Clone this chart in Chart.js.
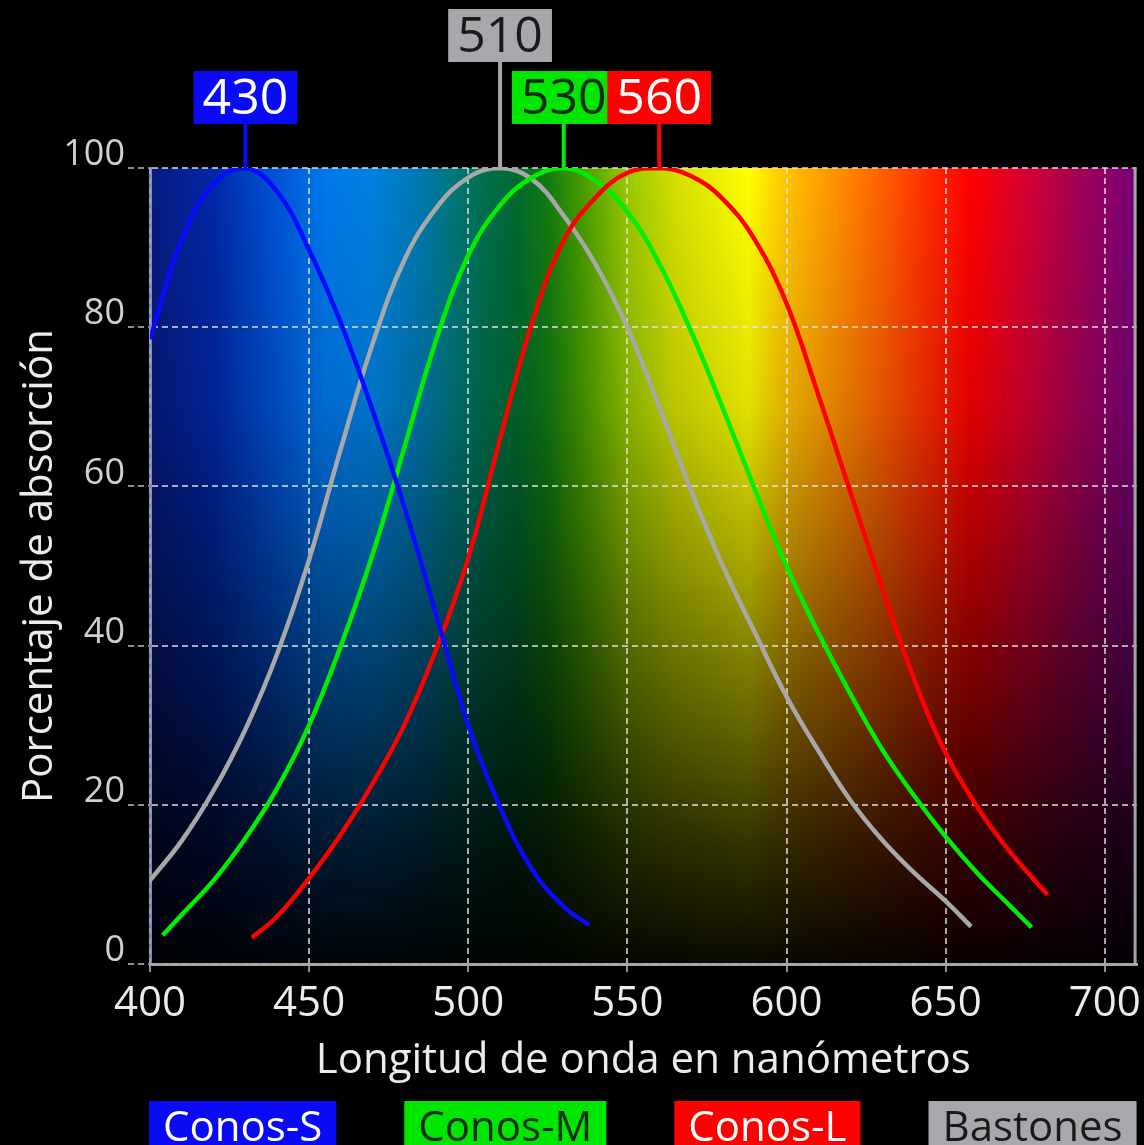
<!DOCTYPE html>
<html>
<head>
<meta charset="utf-8">
<script src="https://cdn.jsdelivr.net/npm/chart.js@4.4.1/dist/chart.umd.min.js"></script>
<style>
html,body{margin:0;padding:0;background:#000;overflow:hidden;}
#wrap{width:1144px;height:1145px;position:relative;}
</style>
</head>
<body>
<div id="wrap"><canvas id="c" width="1144" height="1145"></canvas></div>
<script>
// ---------- data ----------
const seriesNames = ['Conos-S', 'Conos-M', 'Conos-L', 'Bastones'];
const peakWavelengths = [430, 530, 560, 510];
const peakLabels = ['430', '530', '560', '510'];
const xTicks = [400, 450, 500, 550, 600, 650, 700];
const yTicks = [0, 20, 40, 60, 80, 100];
const xTitle = 'Longitud de onda en nanómetros';
const yTitle = 'Porcentaje de absorción';

const sWavelengths = [400, 410, 420, 430, 440, 450, 460, 470, 480, 490, 500, 510, 520, 530, 538];
const sValues      = [78.5, 91, 98, 100, 97, 89.7, 80.5, 69.5, 57.3, 43.8, 30, 19.7, 11.9, 7.2, 4.9];

const mWavelengths = [404, 410, 420, 430, 440, 450, 460, 470, 480, 490, 500, 510, 520, 530, 540, 550, 560, 570, 580, 590, 600, 610, 620, 630, 640, 650, 660, 670, 677];
const mValues      = [3.6, 6.2, 10.5, 15.8, 22.1, 30, 40, 51.5, 65, 78.5, 89, 95.3, 98.8, 100, 98.4, 94.5, 88, 79.5, 69.8, 59.7, 50, 41.6, 34, 27, 21.2, 16, 11.4, 7.4, 4.6];

const lWavelengths = [432, 440, 450, 460, 470, 480, 490, 500, 510, 520, 530, 540, 550, 560, 570, 580, 590, 600, 610, 620, 630, 640, 650, 660, 670, 680, 682];
const lValues      = [3.3, 6.0, 10.8, 16.3, 22.7, 30.1, 39.6, 51, 66, 80.5, 90.9, 96.3, 99.4, 100, 99, 96.1, 91, 83, 71.5, 59.4, 47.4, 35.9, 26.5, 19.7, 14.2, 9.6, 8.7];

const rWavelengths = [400, 410, 420, 430, 440, 450, 460, 470, 480, 490, 500, 510, 520, 530, 540, 550, 560, 570, 580, 590, 600, 610, 620, 630, 640, 650, 658];
const rValues      = [10.5, 15.5, 21.8, 29.5, 39, 50.8, 64.8, 78, 88.5, 95, 98.8, 100, 98.6, 94, 87.9, 80, 70, 59.5, 50, 41.7, 33.6, 26.8, 20.6, 15.6, 11.5, 7.9, 4.7];

// ---------- styles ----------
const FONT = '"Open Sans", "Noto Sans", sans-serif';
const lineColors  = ['#0a0aff', '#00ee00', '#ff0000', '#a8a8a8'];
const boxColors   = ['#0a0af5', '#00e600', '#ff0000', '#a8a8ac'];
const textColors  = ['#ffffff', '#0a2a0a', '#ffffff', '#1a1a1a'];
const peakRows    = [0, 0, 0, 1];
const drawOrder   = [1, 3, 2, 4];

const pts = (xs, ys) => xs.map((x, i) => ({x: x, y: ys[i]}));
const seriesData = [pts(sWavelengths, sValues), pts(mWavelengths, mValues), pts(lWavelengths, lValues), pts(rWavelengths, rValues)];

// spectrum colour stops (wavelength -> colour), background styling only
const spectrum = [
  [400, '#081a80'], [420, '#0028a8'], [440, '#0054d6'], [455, '#0078ec'], [470, '#0082e0'],
  [485, '#0078b0'], [495, '#00787c'], [505, '#006f4e'], [515, '#006a30'], [525, '#127a12'],
  [535, '#429a00'], [550, '#98c800'], [565, '#d4e000'], [588, '#ffff00'], [600, '#ffc400'],
  [615, '#ff9200'], [630, '#ff6000'], [645, '#ff2a00'], [658, '#ff0000'], [675, '#d60032'],
  [690, '#a80052'], [705, '#820070'], [710, '#780078']
];

const bgPlugin = {
  id: 'spectrumBg',
  beforeDraw(chart) {
    const {ctx, chartArea: a, scales: {x}} = chart;
    ctx.save();
    ctx.fillStyle = '#000';
    ctx.fillRect(0, 0, chart.width, chart.height);
    const g = ctx.createLinearGradient(a.left, 0, a.right, 0);
    spectrum.forEach(([nm, c]) => {
      const f = (x.getPixelForValue(nm) - a.left) / (a.right - a.left);
      g.addColorStop(Math.min(1, Math.max(0, f)), c);
    });
    ctx.fillStyle = g;
    ctx.fillRect(a.left, a.top, a.right - a.left, a.bottom - a.top);
    const v = ctx.createLinearGradient(0, a.top, 0, a.bottom);
    v.addColorStop(0, 'rgba(0,0,0,0)');
    v.addColorStop(0.3, 'rgba(0,0,0,0.12)');
    v.addColorStop(0.5, 'rgba(0,0,0,0.35)');
    v.addColorStop(0.7, 'rgba(0,0,0,0.6)');
    v.addColorStop(0.85, 'rgba(0,0,0,0.8)');
    v.addColorStop(1, 'rgba(0,0,0,0.96)');
    ctx.fillStyle = v;
    ctx.fillRect(a.left, a.top, a.right - a.left, a.bottom - a.top);
    ctx.restore();
  },
  afterDraw(chart) {
    const {ctx, chartArea: a} = chart;
    ctx.save();
    ctx.strokeStyle = 'rgba(170,170,175,0.95)';
    ctx.lineWidth = 3;
    ctx.beginPath();
    ctx.moveTo(a.right - 1.5, a.top);
    ctx.lineTo(a.right - 1.5, a.bottom);
    ctx.stroke();
    ctx.restore();
  }
};

const peakPlugin = {
  id: 'peakLabels',
  afterDraw(chart) {
    const {ctx, scales: {x, y}} = chart;
    const top = y.getPixelForValue(100);
    ctx.save();
    ctx.font = '50px ' + FONT;
    ctx.textAlign = 'center';
    ctx.textBaseline = 'middle';
    const order = [3, 0, 1, 2];
    order.forEach(i => {
      const px = x.getPixelForValue(peakWavelengths[i]);
      const h = 53;
      const bottom = peakRows[i] === 0 ? top - 44 : top - 106;
      const w = ctx.measureText(peakLabels[i]).width + 18;
      ctx.strokeStyle = lineColors[i];
      ctx.lineWidth = 4;
      ctx.beginPath();
      ctx.moveTo(px, bottom);
      ctx.lineTo(px, top + 2);
      ctx.stroke();
      ctx.fillStyle = boxColors[i];
      ctx.fillRect(px - w / 2, bottom - h, w, h);
      ctx.fillStyle = textColors[i];
      ctx.fillText(peakLabels[i], px, bottom - h / 2 + 2);
    });
    ctx.restore();
  }
};

const legendPlugin = {
  id: 'boxLegend',
  afterDraw(chart) {
    const {ctx, chartArea: a} = chart;
    ctx.save();
    ctx.font = '42px ' + FONT;
    ctx.textBaseline = 'alphabetic';
    ctx.textAlign = 'left';
    const pad = 14;
    const widths = seriesNames.map(n => ctx.measureText(n).width + 2 * pad);
    const total = widths.reduce((s, w) => s + w, 0);
    const left = a.left - 1, right = a.right;
    const gap = (right - left - total) / (seriesNames.length - 1);
    let xx = left;
    seriesNames.forEach((n, i) => {
      ctx.fillStyle = boxColors[i];
      ctx.fillRect(xx, 1101, widths[i], 50);
      ctx.fillStyle = textColors[i];
      ctx.fillText(n, xx + pad, 1141);
      xx += widths[i] + gap;
    });
    ctx.restore();
  }
};

Chart.defaults.font.family = FONT;
Chart.defaults.color = '#e8e8e8';

new Chart(document.getElementById('c'), {
  type: 'line',
  data: {
    datasets: seriesNames.map((name, i) => ({
      label: name,
      data: seriesData[i],
      borderColor: lineColors[i],
      borderWidth: 4.5,
      pointRadius: 0,
      fill: false,
      tension: 0.4,
      order: drawOrder[i]
    }))
  },
  options: {
    responsive: false,
    animation: false,
    devicePixelRatio: 1,
    layout: {padding: {left: 0, right: 7, top: 168, bottom: 0}},
    plugins: {legend: {display: false}, tooltip: {enabled: false}},
    scales: {
      x: {
        type: 'linear',
        min: 400,
        max: 710,
        afterBuildTicks: s => { s.ticks = xTicks.map(v => ({value: v})); },
        afterFit: s => { s.height = 181; },
        ticks: {font: {size: 42}, color: '#ececec', padding: 3, maxRotation: 0, minRotation: 0, autoSkip: false},
        grid: {color: 'rgba(230,230,230,0.72)', lineWidth: 2, tickLength: 12, tickColor: 'rgba(190,190,190,0.75)', tickWidth: 2, tickBorderDash: [6, 4]},
        border: {display: true, color: 'rgba(170,170,175,0.95)', width: 3, dash: [6, 4]},
        title: {display: true, text: xTitle, font: {size: 42}, color: '#ececec', padding: {top: 0, bottom: 59}}
      },
      y: {
        type: 'linear',
        min: 0,
        max: 100,
        afterBuildTicks: s => { s.ticks = yTicks.map(v => ({value: v})); },
        afterFit: s => { s.width = 150; },
        ticks: {font: {size: 36}, color: '#d0d0d0', padding: 3, labelOffset: -13},
        grid: {color: 'rgba(230,230,230,0.72)', lineWidth: 2, tickLength: 22, tickColor: 'rgba(190,190,190,0.75)', tickWidth: 2, tickBorderDash: [6, 4]},
        border: {display: true, color: 'rgba(150,160,200,0.85)', width: 3, dash: [6, 4]},
        title: {display: true, text: yTitle, font: {size: 42}, color: '#ececec', padding: {top: 15, bottom: 0}}
      }
    }
  },
  plugins: [bgPlugin, peakPlugin, legendPlugin]
});
</script>
</body>
</html>
